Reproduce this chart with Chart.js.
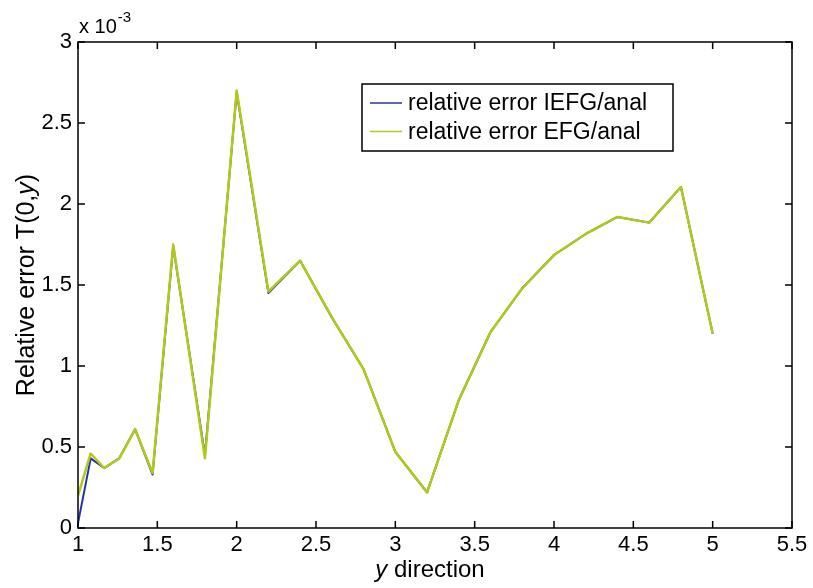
<!DOCTYPE html>
<html>
<head>
<meta charset="utf-8">
<script src="https://cdn.jsdelivr.net/npm/chart.js@4/dist/chart.umd.min.js"></script>
<style>
    html, body { margin: 0; padding: 0; background: #fff; }
    canvas { display: block; }
</style>
</head>
<body>
<canvas id="errorChart" width="813" height="588"></canvas>
<script>
// y positions along the line (x axis)
const yPositions = [1, 1.08, 1.165, 1.26, 1.36, 1.47, 1.6, 1.8, 2.0, 2.2, 2.4, 2.6, 2.8, 3.0, 3.2, 3.4, 3.6, 3.8, 4.0, 4.2, 4.4, 4.6, 4.8, 5.0];
// relative errors, in units of 10^-3
const errorIEFG = [0.03, 0.43, 0.37, 0.43, 0.61, 0.33, 1.74, 0.45, 2.69, 1.45, 1.65, 1.30, 0.98, 0.47, 0.22, 0.79, 1.21, 1.48, 1.685, 1.815, 1.92, 1.885, 2.105, 1.20];
const errorEFG = [0.20, 0.46, 0.37, 0.43, 0.61, 0.34, 1.75, 0.43, 2.70, 1.46, 1.65, 1.30, 0.98, 0.47, 0.22, 0.79, 1.21, 1.48, 1.685, 1.815, 1.92, 1.885, 2.105, 1.20];
const seriesLabels = ['relative error IEFG/anal', 'relative error EFG/anal'];
const seriesColors = ['rgb(32, 52, 170)', 'rgb(178, 200, 26)'];

const FONT = "'Liberation Sans', Arial, sans-serif";

function toPoints(xs, ys) {
    return xs.map((x, i) => ({ x: x, y: ys[i] }));
}

// box, inward ticks, axis titles, exponent and legend, matlab style
const matlabFrame = {
    id: 'matlabFrame',
    afterDraw(chart) {
        const ctx = chart.ctx;
        const area = chart.chartArea;
        const xScale = chart.scales.x;
        const yScale = chart.scales.y;
        const tick = 7;

        ctx.save();
        ctx.strokeStyle = '#000';
        ctx.lineWidth = 1.5;
        ctx.strokeRect(area.left, area.top, area.right - area.left, area.bottom - area.top);

        ctx.beginPath();
        xScale.ticks.forEach(t => {
            const px = xScale.getPixelForValue(t.value);
            ctx.moveTo(px, area.bottom);
            ctx.lineTo(px, area.bottom - tick);
            ctx.moveTo(px, area.top);
            ctx.lineTo(px, area.top + tick);
        });
        yScale.ticks.forEach(t => {
            const py = yScale.getPixelForValue(t.value);
            ctx.moveTo(area.left, py);
            ctx.lineTo(area.left + tick, py);
            ctx.moveTo(area.right, py);
            ctx.lineTo(area.right - tick, py);
        });
        ctx.stroke();

        ctx.fillStyle = '#000';
        ctx.textBaseline = 'alphabetic';

        // x title: "y direction" with italic y
        ctx.font = 'italic 24px ' + FONT;
        const wY = ctx.measureText('y').width;
        ctx.font = '24px ' + FONT;
        const wRest = ctx.measureText(' direction').width;
        let startX = (area.left + area.right) / 2 - (wY + wRest) / 2 - 5;
        ctx.textAlign = 'left';
        ctx.font = 'italic 24px ' + FONT;
        ctx.fillText('y', startX, 577);
        ctx.font = '24px ' + FONT;
        ctx.fillText(' direction', startX + wY, 577);

        // y title: "Relative error T(0,y)" rotated, italic y
        ctx.save();
        ctx.translate(34, (area.top + area.bottom) / 2);
        ctx.rotate(-Math.PI / 2);
        const partA = 'Relative error T(0,';
        const partC = ')';
        ctx.font = '25px ' + FONT;
        const wA = ctx.measureText(partA).width;
        const wC = ctx.measureText(partC).width;
        ctx.font = 'italic 25px ' + FONT;
        const wB = ctx.measureText('y').width;
        let sx = -(wA + wB + wC) / 2;
        ctx.font = '25px ' + FONT;
        ctx.fillText(partA, sx, 0);
        ctx.font = 'italic 25px ' + FONT;
        ctx.fillText('y', sx + wA, 0);
        ctx.font = '25px ' + FONT;
        ctx.fillText(partC, sx + wA + wB, 0);
        ctx.restore();

        // exponent label
        ctx.font = '20px ' + FONT;
        ctx.fillText('x 10', area.left + 1, 33);
        const w10 = ctx.measureText('x 10').width;
        ctx.font = '15px ' + FONT;
        ctx.fillText('-3', area.left + 1 + w10 + 1, 22);

        // legend
        const lx = 362, ly = 84, lw = 311, lh = 67;
        ctx.fillStyle = '#fff';
        ctx.fillRect(lx, ly, lw, lh);
        ctx.strokeStyle = '#000';
        ctx.lineWidth = 1.5;
        ctx.strokeRect(lx, ly, lw, lh);
        ctx.font = '23px ' + FONT;
        ctx.textBaseline = 'middle';
        chart.data.datasets.forEach((ds, i) => {
            const cy = ly + 19 + i * 28.5;
            ctx.strokeStyle = ds.borderColor;
            ctx.lineWidth = 1.5;
            ctx.beginPath();
            ctx.moveTo(lx + 8, cy);
            ctx.lineTo(lx + 40, cy);
            ctx.stroke();
            ctx.fillStyle = '#000';
            ctx.fillText(ds.label, lx + 46, cy + 1);
        });
        ctx.restore();
    }
};

const ctx = document.getElementById('errorChart').getContext('2d');
new Chart(ctx, {
    type: 'line',
    data: {
        datasets: [
            {
                label: seriesLabels[0],
                data: toPoints(yPositions, errorIEFG),
                borderColor: seriesColors[0],
                borderWidth: 2,
                borderJoinStyle: 'round',
                pointRadius: 0,
                tension: 0,
                fill: false,
                order: 2
            },
            {
                label: seriesLabels[1],
                data: toPoints(yPositions, errorEFG),
                borderColor: seriesColors[1],
                borderWidth: 2.5,
                borderJoinStyle: 'round',
                pointRadius: 0,
                tension: 0,
                fill: false,
                order: 1
            }
        ]
    },
    options: {
        responsive: false,
        animation: false,
        layout: {
            padding: { left: 0, right: 21, top: 42, bottom: 0 }
        },
        scales: {
            x: {
                type: 'linear',
                min: 1,
                max: 5.5,
                grid: { display: false, drawTicks: false },
                border: { display: false },
                ticks: {
                    stepSize: 0.5,
                    padding: 4,
                    color: '#000',
                    font: { family: FONT, size: 22 },
                    callback: v => String(v)
                },
                afterFit: scale => { scale.height = 60; }
            },
            y: {
                min: 0,
                max: 3,
                grid: { display: false, drawTicks: false },
                border: { display: false },
                ticks: {
                    stepSize: 0.5,
                    padding: 6,
                    color: '#000',
                    font: { family: FONT, size: 22 },
                    callback: v => String(v)
                },
                afterFit: scale => { scale.width = 78; }
            }
        },
        plugins: {
            legend: { display: false },
            tooltip: { enabled: false },
            title: { display: false }
        }
    },
    plugins: [matlabFrame]
});
</script>
</body>
</html>
